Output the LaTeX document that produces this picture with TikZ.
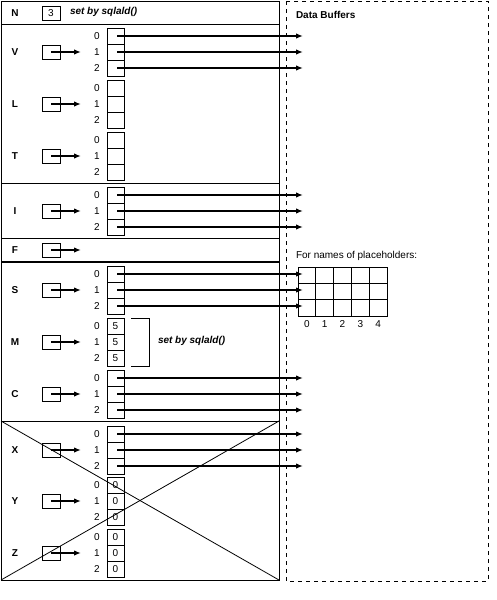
\documentclass[tikz,border=0pt]{standalone}
\usepackage{fontspec}
\setmainfont{Liberation Sans}
\usetikzlibrary{arrows.meta}
\tikzset{
  every node/.style={font=\fontsize{10}{11}\selectfont, inner sep=0pt, outer sep=0pt},
  lbl/.style={font=\fontsize{10}{11}\selectfont\bfseries},
  idx/.style={},
  cellbox/.style={draw, line width=0.8pt, minimum width=17pt, minimum height=16pt},
  ptrbox/.style={draw, line width=0.8pt, minimum width=18pt, minimum height=14pt},
  arr/.style={line width=1.4pt, -{Latex[length=7pt,width=5.5pt]}},
  frame/.style={line width=0.8pt},
  dashframe/.style={line width=0.8pt, dash pattern=on 4pt off 4pt},
  note/.style={font=\fontsize{10}{11}\selectfont\bfseries\itshape, anchor=west},
}
\begin{document}
\begin{tikzpicture}[x=1pt,y=-1pt]
\useasboundingbox (0,0) rectangle (496,600);
% frames
\draw[frame] (1,1) rectangle (279,580);
\draw[dashframe] (286,1) rectangle (488,581);
\draw[frame] (1,24) -- (279,24);
\draw[frame] (1,183) -- (279,183);
\draw[frame] (1,238) -- (279,238);
\draw[line width=1.6pt] (1,262) -- (279,262);
\draw[frame] (1,421) -- (279,421);
% N row
\node[lbl] (N) at (15,13) {N};
\node[ptrbox] (Nbox) at (51,13) {3};
\node[note] (Nnote) at (70,12) {set by sqlald()};
% sections
\foreach \n/\y/\v in {V/52/{},L/104/{},T/156/{},I/211/{},S/290/{},M/342/5,C/394/{},X/450/{},Y/501/0,Z/553/0} {
  \node[lbl] (\n) at (15,\y) {\n};
  \node[ptrbox] (\n-p) at (51,\y) {};
  \coordinate (\n-t) at (81,\y);
  \draw[arr] (\n-p.center) -- (\n-t);
  \foreach \i in {0,1,2} {
    \node[cellbox] (\n\i) at (115.5,\y-16+16*\i) {\v};
    \node[idx] (\n\i-i) at (97,\y-16+16*\i) {\i};
  }
}
% F
\node[lbl] (F) at (15,250) {F};
\node[ptrbox] (F-p) at (51,250) {};
\coordinate (F-t) at (81,250);
\draw[arr] (F-p.center) -- (F-t);
% outgoing pointers
\foreach \n/\y in {V/52,I/211,S/290,C/394,X/450} {
  \foreach \i in {0,1,2} {
    \coordinate (\n\i-e) at (303,\y-16+16*\i);
    \draw[arr] ([xshift=1.5pt]\n\i.center) -- (\n\i-e);
  }
}
% bracket for M
\draw[frame] (131,318) -- (149,318) -- (149,366) -- (131,366);
\node[note] (Mnote) at (158,341) {set by sqlald()};
% data buffers
\node[anchor=west, font=\fontsize{10}{11}\selectfont\bfseries] (DB) at (296,15) {Data Buffers};
\node[anchor=west] (FN) at (296,256) {For names of placeholders:};
\draw[frame] (298,267) rectangle (387,316);
\foreach \c in {1,2,3,4} \draw[frame] (298+17.8*\c,267) -- (298+17.8*\c,316);
\draw[frame] (298,283.3) -- (387,283.3);
\draw[frame] (298,299.7) -- (387,299.7);
\foreach \c in {0,1,2,3,4} \node (g\c) at (298+17.8*\c+8.9,324) {\c};
% cross over X, Y, Z
\draw[frame] (1,421) -- (279,580);
\draw[frame] (279,421) -- (1,580);
\end{tikzpicture}
\end{document}
